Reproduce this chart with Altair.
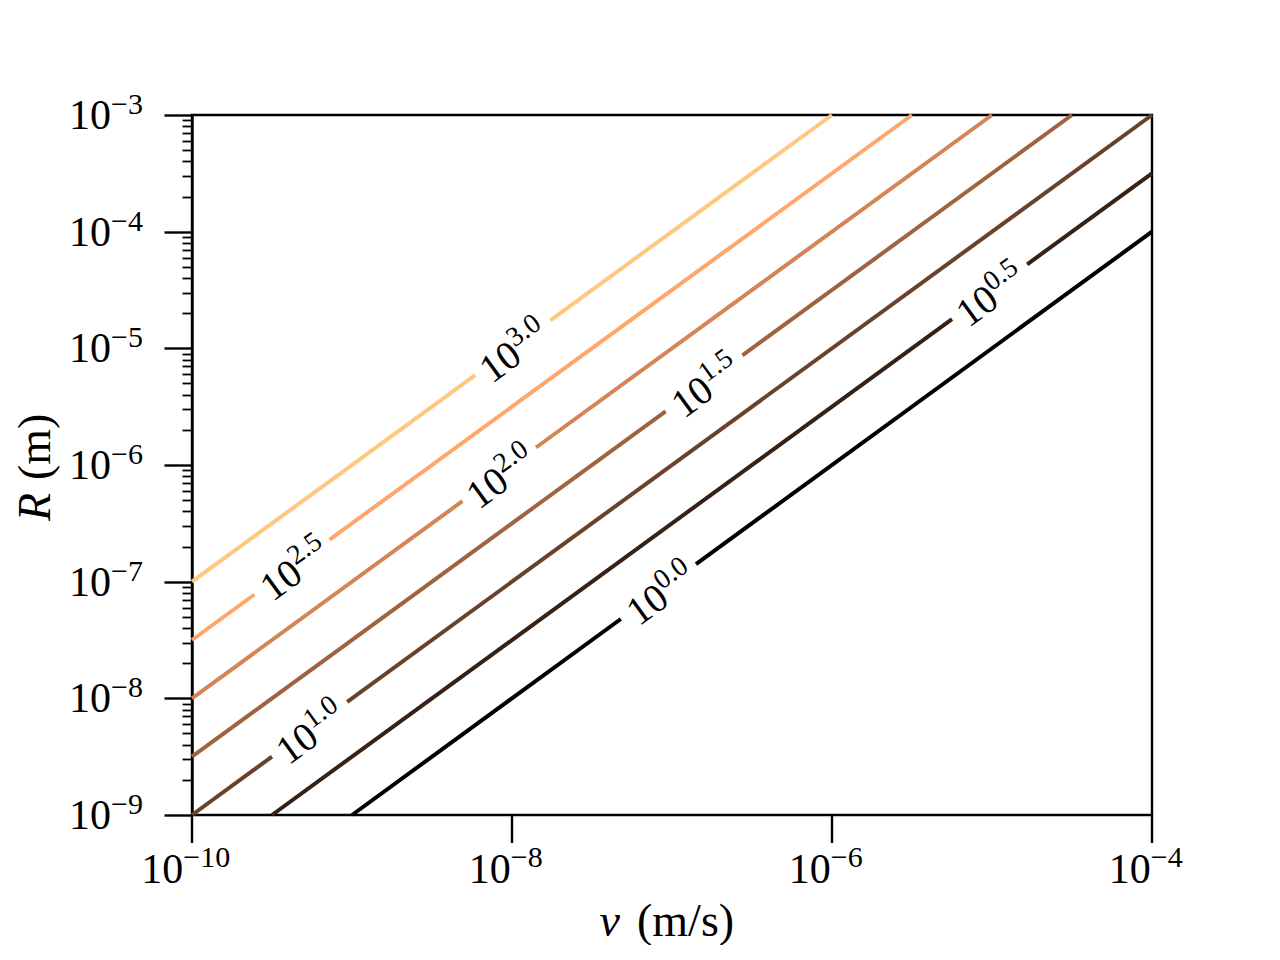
import altair as alt
import pandas as pd

# ---------------- data ----------------
levels = ["0.0", "0.5", "1.0", "1.5", "2.0", "2.5", "3.0"]
line_colors = ["#000000", "#352115", "#6a422a", "#9f643f", "#d48555", "#ffa66a", "#ffc77f"]

# log10 of line end points, label gaps and label centres (v in m/s, R in m)
log_v_start = [-9.0, -9.5, -10.0, -10.0, -10.0, -10.0, -10.0]
log_R_start = [-9.0, -9.0, -9.0, -8.5, -8.0, -7.5, -7.0]
log_v_end = [-4.0, -4.0, -4.0, -4.5, -5.0, -5.5, -6.0]
log_R_end = [-4.0, -3.5, -3.0, -3.0, -3.0, -3.0, -3.0]
log_v_gap_lo = [-7.32, -5.25, -9.50, -7.04, -8.31, -9.61, -8.23]
log_R_gap_lo = [-7.32, -4.75, -8.50, -5.54, -6.31, -7.11, -5.23]
log_v_gap_hi = [-6.85, -4.78, -9.03, -6.56, -7.85, -9.14, -7.76]
log_R_gap_hi = [-6.85, -4.28, -8.03, -5.06, -5.85, -6.64, -4.76]
log_v_label = [-7.08, -5.02, -9.27, -6.80, -8.08, -9.37, -8.00]
log_R_label = [-7.08, -4.52, -8.27, -5.30, -6.08, -6.87, -5.00]

x_tick_values = [1e-10, 1e-8, 1e-6, 1e-4]
x_tick_exps = ["\u221210", "\u22128", "\u22126", "\u22124"]
y_tick_values = [1e-9, 1e-8, 1e-7, 1e-6, 1e-5, 1e-4, 1e-3]
y_tick_exps = ["\u22129", "\u22128", "\u22127", "\u22126", "\u22125", "\u22124", "\u22123"]
y_minor_values = [m * 10.0 ** e for e in range(-9, -3) for m in range(2, 10)]

x_domain = [1e-10, 1e-4]
y_domain = [1e-9, 1e-3]

FONT = "Liberation Serif"
TICK_FS = 42
TICK_EXP_FS = 30
LAB_FS = 40
LAB_EXP_FS = 28
TITLE_FS = 46
ANGLE = 324
AXW = 2.4
MAJOR_LEN = 28

# ---------------- tables ----------------
rows = []
for i, lev in enumerate(levels):
    pts = [
        (log_v_start[i], log_R_start[i], 0),
        (log_v_gap_lo[i], log_R_gap_lo[i], 0),
        (log_v_gap_hi[i], log_R_gap_hi[i], 1),
        (log_v_end[i], log_R_end[i], 1),
    ]
    for lv, lr, s in pts:
        rows.append({"level": lev, "seg": f"{lev}-{s}", "v": 10.0 ** lv, "R": 10.0 ** lr})
line_df = pd.DataFrame(rows)

lab_df = pd.DataFrame({
    "level": levels,
    "v": [10.0 ** a for a in log_v_label],
    "R": [10.0 ** a for a in log_R_label],
    "exp": levels,
})

xscale = alt.Scale(type="log", domain=x_domain, nice=False)
yscale = alt.Scale(type="log", domain=y_domain, nice=False)

x_axis = alt.Axis(values=x_tick_values, tickCount=len(x_tick_values), tickSize=MAJOR_LEN,
                  tickWidth=AXW, tickColor="black", domainColor="black", domainWidth=AXW,
                  labels=False, grid=False, title=None, orient="bottom")
y_axis_major = alt.Axis(values=y_tick_values, tickCount=len(y_tick_values), tickSize=MAJOR_LEN,
                        tickWidth=AXW, tickColor="black", domainColor="black", domainWidth=AXW,
                        labels=False, grid=False, title=None, orient="left")
y_axis_minor = alt.Axis(values=y_minor_values, tickCount=len(y_minor_values), tickSize=10,
                        tickWidth=1.8, tickColor="black", domain=False, labels=False,
                        grid=False, title=None, orient="left")

# ---------------- contour lines ----------------
lines = alt.Chart(line_df).mark_line(strokeWidth=4, strokeCap="butt").encode(
    x=alt.X("v:Q", scale=xscale, axis=x_axis),
    y=alt.Y("R:Q", scale=yscale, axis=y_axis_major),
    color=alt.Color("level:N", scale=alt.Scale(domain=levels, range=line_colors), legend=None),
    detail="seg:N",
)

# explicit major ticks below the x axis (same positions as the axis values)
xtick_df = pd.DataFrame({"v": x_tick_values})
xticks = alt.Chart(xtick_df).mark_rule(color="black", strokeWidth=AXW, y2Offset=MAJOR_LEN).encode(
    x=alt.X("v:Q", scale=xscale, axis=None),
    y=alt.YDatum(y_domain[0], type="quantitative", scale=yscale, axis=None),
    y2=alt.Y2Datum(y_domain[0]),
)

# ---------------- inline contour labels ----------------
w10 = LAB_FS * 1.0
wexp = LAB_EXP_FS * 1.25
lab_dx = (w10 - wexp) / 2

lab10 = alt.Chart(lab_df).mark_text(
    text="10", font=FONT, fontSize=LAB_FS, angle=ANGLE, align="right",
    baseline="alphabetic", dx=lab_dx, dy=17, color="black",
).encode(
    x=alt.X("v:Q", scale=xscale, axis=None),
    y=alt.Y("R:Q", scale=yscale, axis=y_axis_minor),
)
labexp = alt.Chart(lab_df).mark_text(
    font=FONT, fontSize=LAB_EXP_FS, angle=ANGLE, align="left",
    baseline="alphabetic", dx=lab_dx, dy=1, color="black",
).encode(
    x=alt.X("v:Q", scale=xscale, axis=None),
    y=alt.Y("R:Q", scale=yscale, axis=None),
    text="exp:N",
)

# ---------------- tick labels (10 with superscript) ----------------
xlabel_layers = []
for val, e in zip(x_tick_values, x_tick_exps):
    df = pd.DataFrame({"v": [val], "exp": [e]})
    nd = len(e) - 1
    w_e = TICK_EXP_FS * (0.78 + 0.5 * nd)
    dx10 = (TICK_FS - w_e) / 2 - 3
    enc = dict(
        x=alt.X("v:Q", scale=xscale, axis=None),
        y=alt.YDatum(y_domain[0], type="quantitative", scale=yscale, axis=None),
    )
    xlabel_layers.append(alt.Chart(df).mark_text(
        text="10", font=FONT, fontSize=TICK_FS, align="right", baseline="alphabetic",
        dx=dx10, dy=68, color="black").encode(**enc))
    xlabel_layers.append(alt.Chart(df).mark_text(
        font=FONT, fontSize=TICK_EXP_FS, align="left", baseline="alphabetic",
        dx=dx10, dy=52, color="black").encode(text="exp:N", **enc))

ytick_df = pd.DataFrame({"R": y_tick_values, "exp": y_tick_exps})
yenc = dict(
    x=alt.XDatum(x_domain[0], type="quantitative", scale=xscale, axis=None),
    y=alt.Y("R:Q", scale=yscale, axis=None),
)
ytl10 = alt.Chart(ytick_df).mark_text(
    text="10", font=FONT, fontSize=TICK_FS, align="right", baseline="alphabetic",
    dx=-81, dy=14, color="black").encode(**yenc)
ytlexp = alt.Chart(ytick_df).mark_text(
    font=FONT, fontSize=TICK_EXP_FS, align="left", baseline="alphabetic",
    dx=-81, dy=-1, color="black").encode(text="exp:N", **yenc)

# ---------------- axis titles ----------------
title_df = pd.DataFrame({"v": [1e-7], "R": [1e-6]})
xt_enc = dict(
    x=alt.X("v:Q", scale=xscale, axis=None),
    y=alt.YDatum(y_domain[0], type="quantitative", scale=yscale, axis=None),
)
xt_v = alt.Chart(title_df).mark_text(
    text="v", font=FONT, fontSize=TITLE_FS, fontStyle="italic", align="right",
    baseline="alphabetic", dx=-52, dy=121, color="black").encode(**xt_enc)
xt_rest = alt.Chart(title_df).mark_text(
    text="(m/s)", font=FONT, fontSize=TITLE_FS, align="left",
    baseline="alphabetic", dx=-35, dy=121, color="black").encode(**xt_enc)

yt_enc = dict(
    x=alt.XDatum(x_domain[0], type="quantitative", scale=xscale, axis=None),
    y=alt.Y("R:Q", scale=yscale, axis=None),
)
yt_R = alt.Chart(title_df).mark_text(
    text="R", font=FONT, fontSize=TITLE_FS, fontStyle="italic", angle=270, align="right",
    baseline="alphabetic", dx=-28, dy=-142, color="black").encode(**yt_enc)
yt_rest = alt.Chart(title_df).mark_text(
    text="(m)", font=FONT, fontSize=TITLE_FS, angle=270, align="left",
    baseline="alphabetic", dx=-15, dy=-142, color="black").encode(**yt_enc)

chart = alt.layer(
    lines, xticks, lab10, labexp, *xlabel_layers, ytl10, ytlexp, xt_v, xt_rest, yt_R, yt_rest
).resolve_axis(
    y="independent"
).properties(
    width=960,
    height=700,
    padding={"left": 184, "top": 107, "right": 120, "bottom": 130},
    autosize=alt.AutoSizeParams(type="none"),
    background="white",
).configure_view(
    stroke="black", strokeWidth=AXW
)

chart.save("out.html", embed_options={"renderer": "svg", "actions": False})
